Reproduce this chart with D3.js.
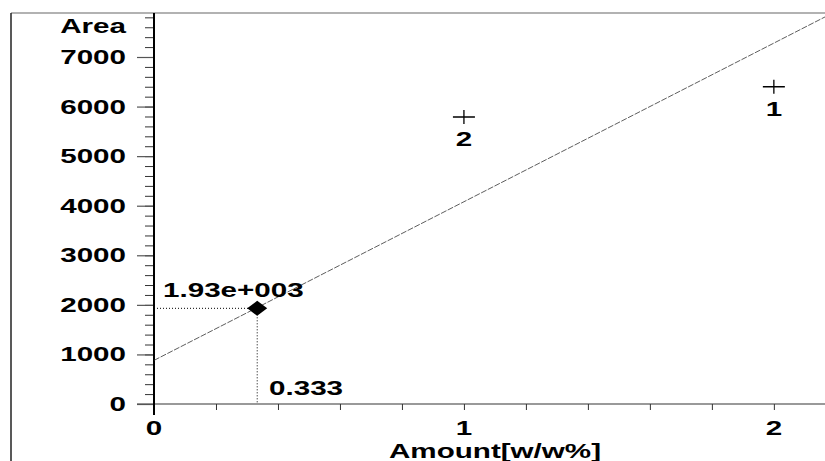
<!DOCTYPE html>
<html><head><meta charset="utf-8">
<script src="https://cdn.jsdelivr.net/npm/d3@7"></script>
<style>body{margin:0;background:#fff}svg{display:block}</style>
</head><body>
<svg id="c" width="825" height="461"></svg>
<script>
// Data
const calAmount = [2, 1];
const calArea = [6400, 5790];
const calLabels = ["1", "2"];
const sampleAmount = [0.333];
const sampleArea = [1930];
const sampleAreaLabel = ["1.93e+003"];
const sampleAmountLabel = ["0.333"];
const fitIntercept = 880;
const fitSlope = 3200;
const yTicks = [0, 1000, 2000, 3000, 4000, 5000, 6000, 7000];
const xTicks = [0, 1, 2];
const yMinor = d3.range(0, 7801, 200);
const xMinor = d3.range(0, 2.2, 0.2);

const svg = d3.select("#c");
const x = d3.scaleLinear().domain([0, 2.165]).range([154, 825]);
const y = d3.scaleLinear().domain([0, 7000]).range([404, 57]);
const SX = 1.48;
const font = "'Liberation Sans', Arial, sans-serif";

function txt(g, tx, ty, s, anchor) {
  return g.append("text")
    .attr("transform", `translate(${tx},${ty}) scale(${SX},1)`)
    .attr("text-anchor", anchor || "start")
    .attr("font-family", font).attr("font-weight", "bold")
    .attr("font-size", 20).attr("fill", "#000").text(s);
}

// Frame
svg.append("line").attr("x1", 11).attr("x2", 825).attr("y1", 13).attr("y2", 13).attr("stroke", "#666").attr("stroke-width", 1.2);
svg.append("line").attr("x1", 11).attr("x2", 11).attr("y1", 13).attr("y2", 461).attr("stroke", "#222").attr("stroke-width", 1.5);

// X axis line
svg.append("line").attr("x1", 137).attr("x2", 825).attr("y1", y(0)).attr("y2", y(0)).attr("stroke", "#777").attr("stroke-width", 1.3);

// Y axis ticks
const yMinorAxis = d3.axisLeft(y).tickValues(yMinor).tickSize(9).tickFormat("");
const gym = svg.append("g").attr("transform", `translate(${x(0)},0)`).call(yMinorAxis);
gym.select(".domain").remove();
gym.selectAll("line").attr("stroke", "#333").attr("stroke-width", 1);
const yMajorAxis = d3.axisLeft(y).tickValues(yTicks).tickSize(17).tickFormat("");
const gyM = svg.append("g").attr("transform", `translate(${x(0)},0)`).call(yMajorAxis);
gyM.select(".domain").remove();
gyM.selectAll("line").attr("stroke", "#555").attr("stroke-width", 1.2);

// X axis ticks
const xMinorAxis = d3.axisBottom(x).tickValues(xMinor).tickSize(6).tickFormat("");
const gxm = svg.append("g").attr("transform", `translate(0,${y(0)})`).call(xMinorAxis);
gxm.select(".domain").remove();
gxm.selectAll("line").attr("stroke", "#333").attr("stroke-width", 1);

// Y axis line
svg.append("line").attr("x1", x(0)).attr("x2", x(0)).attr("y1", 13).attr("y2", 415).attr("stroke", "#000").attr("stroke-width", 2);

// Labels
yTicks.forEach(v => txt(svg, 126, y(v) + 7, String(v), "end"));
txt(svg, 126, 33, "Area", "end");
xTicks.forEach(v => txt(svg, x(v), 435, String(v), "middle"));
txt(svg, 495, 458, "Amount[w/w%]", "middle");

// Regression line
const xs = [0, 2.165];
svg.append("line")
  .attr("x1", x(xs[0])).attr("y1", y(fitIntercept + fitSlope * xs[0]))
  .attr("x2", x(xs[1])).attr("y2", y(fitIntercept + fitSlope * xs[1]))
  .attr("stroke", "#333").attr("stroke-width", 0.8).attr("stroke-dasharray", "6,1.5");

// Sample dotted guides
sampleAmount.forEach((a, i) => {
  const px = x(a), py = y(sampleArea[i]);
  svg.append("line").attr("x1", x(0)).attr("x2", px).attr("y1", py).attr("y2", py)
    .attr("stroke", "#000").attr("stroke-width", 1).attr("stroke-dasharray", "1,2");
  svg.append("line").attr("x1", px).attr("x2", px).attr("y1", py).attr("y2", y(0))
    .attr("stroke", "#000").attr("stroke-width", 1).attr("stroke-dasharray", "1,2");
  svg.append("path").attr("d", `M${px - 10},${py} L${px},${py - 7.5} L${px + 10},${py} L${px},${py + 7.5} Z`).attr("fill", "#000");
  txt(svg, 163, 297, sampleAreaLabel[i], "start");
  txt(svg, 269, 395, sampleAmountLabel[i], "start");
});

// Calibration points
calAmount.forEach((a, i) => {
  const px = x(a), py = y(calArea[i]);
  svg.append("path").attr("d", `M${px - 11},${py} H${px + 11} M${px},${py - 7} V${py + 7}`)
    .attr("stroke", "#000").attr("stroke-width", 1.3).attr("fill", "none");
  txt(svg, px, py + 29, calLabels[i], "middle");
});
</script>
</body></html>
